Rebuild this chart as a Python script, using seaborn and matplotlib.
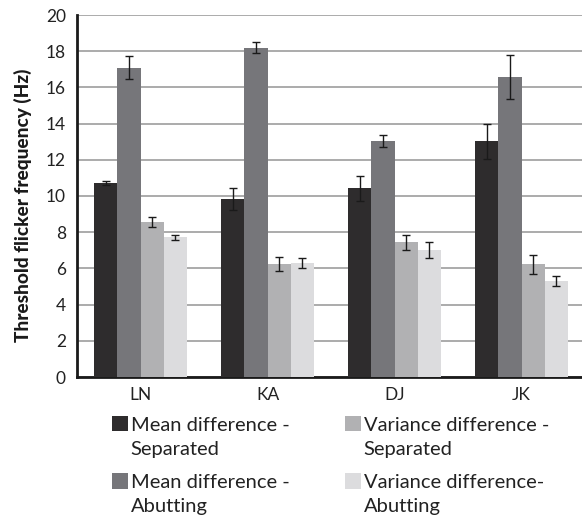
import matplotlib
matplotlib.use("Agg")
import matplotlib.pyplot as plt
import matplotlib.patches as mpatches
from matplotlib.legend_handler import HandlerPatch
import seaborn as sns
import pandas as pd

subjects = ["LN", "KA", "DJ", "JK"]
conditions = ["Mean difference -\nSeparated", "Mean difference -\nAbutting",
              "Variance difference -\nSeparated", "Variance difference-\nAbutting"]
mean_sep = [10.73, 9.83, 10.42, 13.02]
mean_abut = [17.09, 18.19, 13.04, 16.57]
var_sep = [8.58, 6.24, 7.44, 6.22]
var_abut = [7.72, 6.30, 7.02, 5.29]
err_mean_sep = [0.12, 0.62, 0.67, 0.96]
err_mean_abut = [0.63, 0.30, 0.34, 1.20]
err_var_sep = [0.28, 0.37, 0.40, 0.52]
err_var_abut = [0.15, 0.26, 0.46, 0.27]
colors = ["#2e2c2d", "#76767a", "#b1b1b3", "#dcdcde"]
yticks = [0, 2, 4, 6, 8, 10, 12, 14, 16, 18, 20]

values = [mean_sep, mean_abut, var_sep, var_abut]
errors = [err_mean_sep, err_mean_abut, err_var_sep, err_var_abut]

rows = []
for cond, vals in zip(conditions, values):
    for s, v in zip(subjects, vals):
        rows.append({"Subject": s, "Condition": cond, "Value": v})
df = pd.DataFrame(rows)

sns.set_style("white")
plt.rcParams['font.family'] = ['Lato', 'DejaVu Sans']

fig = plt.figure(figsize=(5.82, 5.19), dpi=100)
ax = fig.add_axes([77/582, 1-377/519, 508/582, 362/519])

sns.barplot(data=df, x="Subject", y="Value", hue="Condition", order=subjects,
            hue_order=conditions, palette=colors, width=0.725, errorbar=None,
            saturation=1, ax=ax, zorder=3, legend=False, edgecolor="none")

for cont, errs in zip(ax.containers, errors):
    xs = [b.get_x() + b.get_width()/2 for b in cont]
    ys = [b.get_height() for b in cont]
    ax.errorbar(xs, ys, yerr=errs, fmt="none", ecolor="#1a1a1a", elinewidth=1.0,
                capsize=2.6, capthick=1.0, zorder=4)

ax.set_ylim(0, 20)
ax.set_xlim(-0.5, 3.5)
ax.set_yticks(yticks)
ax.set_yticklabels([str(t) for t in yticks], fontsize=12.5, color="#222222")
ax.set_xticks(range(len(subjects)))
ax.set_xticklabels(subjects, fontsize=12.5, color="#222222")
ax.set_xticks([-0.5, 0.5, 1.5, 2.5, 3.5], minor=True)
ax.tick_params(axis="x", which="major", length=0, pad=7)
ax.tick_params(axis="x", which="minor", length=5, width=1.2, color="#222222", direction="out")
ax.tick_params(axis="y", length=5, width=1.2, color="#555555", direction="out", pad=3)
ax.yaxis.grid(True, color="#ababab", linewidth=1.4, zorder=0)
ax.set_axisbelow(True)
for side in ["top", "right"]:
    ax.spines[side].set_visible(False)
for side in ["left", "bottom"]:
    ax.spines[side].set_color("#1a1a1a")
    ax.spines[side].set_linewidth(2.0)
ax.set_xlabel("")
ax.set_ylabel("Threshold flicker frequency (Hz)", fontsize=13.7, fontweight="black",
              color="#1a1a1a")
ax.yaxis.set_label_coords(-0.088, 0.475)


def top_patch(legend, orig_handle, xdescent, ydescent, width, height, fontsize):
    return mpatches.Rectangle((-xdescent, -ydescent + 0.68 * fontsize), width, height)


handles = [mpatches.Patch(facecolor=c, edgecolor="none") for c in colors]
leg = fig.legend(handles, conditions, ncol=2, loc="upper left",
                 bbox_to_anchor=(94/582, 1-399/519),
                 frameon=False, fontsize=14.5, handlelength=0.78, handleheight=0.78,
                 handletextpad=0.15, columnspacing=2.75, labelspacing=0.8,
                 labelcolor="#222222",
                 handler_map={mpatches.Patch: HandlerPatch(patch_func=top_patch)})
for t in leg.get_texts():
    t.set_linespacing(1.5)

fig.savefig("out.png", dpi=100)
